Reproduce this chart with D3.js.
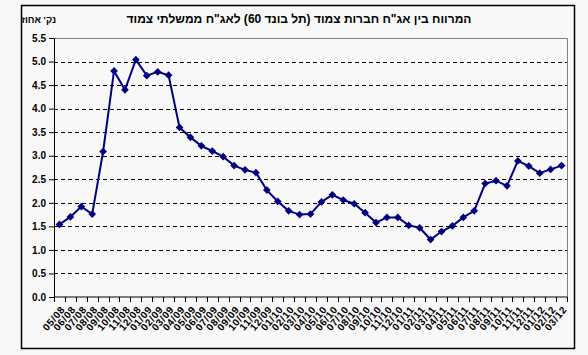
<!DOCTYPE html>
<html>
<head>
<meta charset="utf-8">
<script src="https://cdn.jsdelivr.net/npm/d3@7"></script>
<style>
  body { margin: 0; background: #f8f8f8; }
  text { font-family: "Liberation Sans", Arial, sans-serif; font-weight: bold; }
</style>
</head>
<body>
<div id="chart"></div>
<script>
// months, mm/yy
const months = [
  "05/08","06/08","07/08","08/08","09/08","10/08","11/08","12/08",
  "01/09","02/09","03/09","04/09","05/09","06/09","07/09","08/09","09/09","10/09","11/09","12/09",
  "01/10","02/10","03/10","04/10","05/10","06/10","07/10","08/10","09/10","10/10","11/10","12/10",
  "01/11","02/11","03/11","04/11","05/11","06/11","07/11","08/11","09/11","10/11","11/11","12/11",
  "01/12","02/12","03/12"
];
const spread = [
  1.54, 1.70, 1.92, 1.76, 3.09, 4.80, 4.40, 5.04,
  4.70, 4.78, 4.71, 3.60, 3.39, 3.21, 3.10, 2.98, 2.79, 2.70, 2.64, 2.27,
  2.03, 1.83, 1.75, 1.76, 2.02, 2.17, 2.06, 1.98, 1.79, 1.58, 1.69, 1.69,
  1.52, 1.47, 1.22, 1.39, 1.51, 1.69, 1.83, 2.41, 2.47, 2.36, 2.89, 2.78,
  2.63, 2.71, 2.79
];
const yTicks = [0, 0.5, 1, 1.5, 2, 2.5, 3, 3.5, 4, 4.5, 5, 5.5];

const title = "המרווח בין אג\"ח חברות צמוד (תל בונד 60) לאג\"ח ממשלתי צמוד";
const yLabel = "נק' אחוז";

let width = 588, height = 355,
    margin = ({ top: 38, right: 21, bottom: 58, left: 54 });

const data = months.map((m, i) => ({ month: m, value: spread[i] }));

const svg = d3.select("#chart")
  .append("svg")
  .attr("width", width)
  .attr("height", height);

// outer frame
svg.append("rect")
  .attr("x", 21.5).attr("y", 5.5)
  .attr("width", 553).attr("height", 343)
  .attr("fill", "#f8f8f8")
  .attr("stroke", "#000")
  .attr("stroke-width", 1.5);

let x = d3.scaleBand()
  .domain(months)
  .range([margin.left, width - margin.right]);

let y = d3.scaleLinear()
  .domain([0, 5.5])
  .range([height - margin.bottom, margin.top]);

// grid, dashed
svg.append("g")
  .selectAll("line")
  .data(yTicks.filter(d => d > 0 && d < 5.5))
  .join("line")
  .attr("x1", margin.left).attr("x2", width - margin.right)
  .attr("y1", d => Math.round(y(d)) + 0.5).attr("y2", d => Math.round(y(d)) + 0.5)
  .attr("stroke", "#000")
  .attr("stroke-dasharray", "4,3");

// plot border top + right (grey)
svg.append("path")
  .attr("d", `M${margin.left},${Math.round(y(5.5)) + 0.5}H${width - margin.right + 0.5}V${y(0)}`)
  .attr("fill", "none")
  .attr("stroke", "#808080")
  .attr("stroke-width", 1);

// Y axis
svg.append("g")
  .attr("transform", `translate(${margin.left},0)`)
  .call(d3.axisLeft(y)
    .tickValues(yTicks)
    .tickSize(5)
    .tickPadding(3)
    .tickFormat(d3.format(".1f")))
  .call(g => g.selectAll("text").attr("font-size", 10).attr("fill", "#000"))
  .call(g => g.selectAll("line, path").attr("stroke", "#000"));

// X axis: ticks between categories
let xAxis = svg.append("g")
  .attr("transform", `translate(0,${y(0)})`);

xAxis.append("line")
  .attr("x1", margin.left).attr("x2", width - margin.right)
  .attr("stroke", "#000");

xAxis.selectAll(".tk")
  .data(months.concat(["end"]))
  .join("line")
  .attr("class", "tk")
  .attr("x1", (d, i) => Math.round(margin.left + i * x.step()) + 0.5)
  .attr("x2", (d, i) => Math.round(margin.left + i * x.step()) + 0.5)
  .attr("y1", 0).attr("y2", 5)
  .attr("stroke", "#000");

xAxis.selectAll(".lbl")
  .data(months)
  .join("text")
  .attr("class", "lbl")
  .attr("transform", d => `translate(${x(d) + x.bandwidth() / 2 + 4},11) rotate(-50)`)
  .attr("text-anchor", "end")
  .attr("dominant-baseline", "middle")
  .attr("font-size", 10)
  .attr("letter-spacing", 0.7)
  .text(d => d);

// line + diamonds
let line = d3.line()
  .x(d => x(d.month) + x.bandwidth() / 2)
  .y(d => y(d.value));

svg.append("path")
  .datum(data)
  .attr("fill", "none")
  .attr("stroke", "#000080")
  .attr("stroke-width", 2)
  .attr("d", line);

svg.append("g")
  .selectAll("path")
  .data(data)
  .join("path")
  .attr("transform", d => `translate(${x(d.month) + x.bandwidth() / 2},${y(d.value)})`)
  .attr("d", d3.symbol(d3.symbolDiamond2, 38))
  .attr("fill", "#000080");

// title and unit label
svg.append("text")
  .attr("x", 299).attr("y", 23)
  .attr("text-anchor", "middle")
  .attr("direction", "rtl")
  .attr("font-size", 12)
  .text(title);

svg.append("text")
  .attr("x", 56).attr("y", 23)
  .attr("text-anchor", "start")
  .attr("direction", "rtl")
  .attr("font-size", 9.5)
  .text(yLabel);
</script>
</body>
</html>
